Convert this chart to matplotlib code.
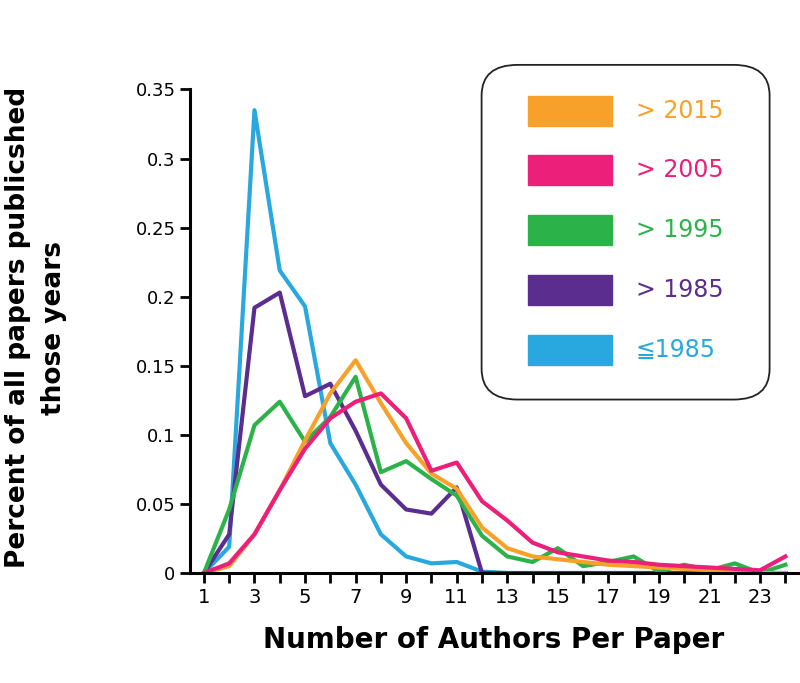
import matplotlib
matplotlib.use("Agg")
import matplotlib.pyplot as plt
from matplotlib.patches import FancyBboxPatch, Rectangle

authors = list(range(1, 25))

le_1985 = [0, 0.019, 0.335, 0.219, 0.193, 0.094, 0.064, 0.028, 0.012, 0.007, 0.008, 0.001,
           0, 0, 0, 0, 0, 0, 0, 0, 0, 0, 0, 0]
gt_1985 = [0, 0.028, 0.192, 0.203, 0.128, 0.137, 0.103, 0.064, 0.046, 0.043, 0.062, 0.0,
           0, 0, 0, 0, 0, 0, 0, 0, 0, 0, 0, 0]
gt_1995 = [0, 0.046, 0.107, 0.124, 0.095, 0.113, 0.142, 0.073, 0.081, 0.068, 0.056, 0.027,
           0.012, 0.008, 0.018, 0.005, 0.008, 0.012, 0.001, 0.006, 0.002, 0.007, 0.0, 0.006]
gt_2015 = [0, 0.005, 0.028, 0.060, 0.096, 0.130, 0.154, 0.123, 0.094, 0.072, 0.061, 0.033,
           0.018, 0.012, 0.010, 0.008, 0.006, 0.005, 0.004, 0.003, 0.002, 0.001, 0.0, 0.0]
gt_2005 = [0, 0.007, 0.028, 0.060, 0.090, 0.112, 0.124, 0.130, 0.112, 0.074, 0.080, 0.052,
           0.038, 0.022, 0.015, 0.012, 0.009, 0.008, 0.006, 0.005, 0.004, 0.003, 0.002, 0.012]

series = [
    ("≦1985", le_1985, "#29a8e0"),
    ("> 1985", gt_1985, "#5b2d8e"),
    ("> 1995", gt_1995, "#2bb34a"),
    ("> 2015", gt_2015, "#f7a12b"),
    ("> 2005", gt_2005, "#ec1f7a"),
]
legend_order = ["> 2015", "> 2005", "> 1995", "> 1985", "≦1985"]

plt.rcParams["font.family"] = ["DejaVu Sans", "Noto Sans CJK JP"]

fig = plt.figure(figsize=(8, 6.83), dpi=100)
ax = fig.add_axes([0.2375, 0.161, 0.76, 0.708])

for name, vals, color in series:
    ax.plot(authors, vals, color=color, lw=3, solid_joinstyle="round")

ax.set_xlim(0.45, 24.5)
ax.set_ylim(0, 0.35)
ax.set_xticks(range(1, 25))
ax.set_xticklabels([str(v) if v % 2 == 1 else "" for v in range(1, 25)], fontsize=14)
ax.set_yticks([0, 0.05, 0.1, 0.15, 0.2, 0.25, 0.3, 0.35])
ax.set_yticklabels(["0", "0.05", "0.1", "0.15", "0.2", "0.25", "0.3", "0.35"], fontsize=13)
ax.tick_params(axis="both", direction="out", length=7, width=2)
for side in ("top", "right"):
    ax.spines[side].set_visible(False)
for side in ("left", "bottom"):
    ax.spines[side].set_linewidth(2.2)

ax.set_xlabel("Number of Authors Per Paper", fontsize=20, fontweight="bold", labelpad=14)
fig.text(0.045, 0.52, "Percent of all papers publicshed\nthose years", rotation=90,
         ha="center", va="center", fontsize=19, fontweight="bold", linespacing=1.5)

# legend box
box = FancyBboxPatch((0.602, 0.415), 0.36, 0.49, boxstyle="round,pad=0,rounding_size=0.045",
                     transform=fig.transFigure, fill=False, ec="#222222", lw=1.3)
fig.patches.append(box)
colors = {n: c for n, _, c in series}
for i, name in enumerate(legend_order):
    y = 0.838 - i * 0.0875
    fig.patches.append(Rectangle((0.66, y - 0.022), 0.105, 0.044, transform=fig.transFigure,
                                 color=colors[name]))
    fig.text(0.795, y, name, color=colors[name], fontsize=17, va="center", ha="left")

fig.savefig("out.png", dpi=100)
